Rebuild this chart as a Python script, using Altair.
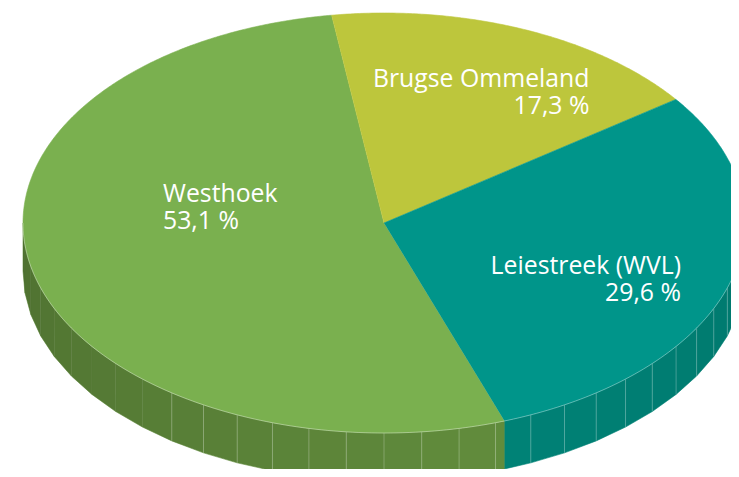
import altair as alt
import numpy as np
import pandas as pd

# ---- data ----
regions = ["Westhoek", "Brugse Ommeland", "Leiestreek (WVL)"]
shares = [53.1, 17.3, 29.6]
share_labels = ["53,1 %", "17,3 %", "29,6 %"]
top_colors = ["#7AB04F", "#BDC63C", "#00958A"]
side_colors = ["#628D3D", "#9BA32F", "#008276"]

# ---- layout (plot pixels, y downwards) ----
W, H = 723, 461
CX, CY = 376.0, 215.0      # centre of the top ellipse
VX, VY = 376.0, 215.0      # apex of the slices
RX, RY = 361.0, 210.0
DEPTH = 48.0
START = 70.5               # first slice starts here (deg, clockwise from 3 o'clock)


def ex(t):
    return CX + RX * np.cos(np.radians(t))


def ey(t):
    return CY + RY * np.sin(np.radians(t))


total = float(sum(shares))
bounds = []
acc = START
for v in shares:
    span = 360.0 * v / total
    bounds.append((acc, acc + span))
    acc += span

# top face polygons
top_rows = []
for name, (t0, t1) in zip(regions, bounds):
    top_rows.append(dict(name=name, k=0, x=VX, y=VY))
    n = int(np.ceil(t1 - t0)) * 2
    for i in range(n + 1):
        t = t0 + (t1 - t0) * i / n
        top_rows.append(dict(name=name, k=i + 1, x=ex(t), y=ey(t)))
top_df = pd.DataFrame(top_rows)

# side facets (front half: 0..180 deg)
cuts = set(float(a) for a in range(0, 181, 6))
for t0, t1 in bounds:
    for b in (t0 % 360, t1 % 360):
        if 0 < b < 180:
            cuts.add(b)
cuts = sorted(cuts)


def owner(t):
    for name, (t0, t1) in zip(regions, bounds):
        if (t - t0) % 360 < (t1 - t0):
            return name
    return regions[-1]


side_rows = []
for j in range(len(cuts) - 1):
    a, b = cuts[j], cuts[j + 1]
    m = (a + b) / 2
    nm = owner(m)
    pts = [(ex(a), ey(a)), (ex(b), ey(b)), (ex(b), ey(b) + DEPTH), (ex(a), ey(a) + DEPTH)]
    for k, (px, py) in enumerate(pts):
        side_rows.append(dict(fid=j, name=nm, mid=m, k=k, x=px, y=py))
side_df = pd.DataFrame(side_rows)

edge_angles = list(range(18, 127, 6))
edge_df = pd.DataFrame(dict(
    x=[ex(t) for t in edge_angles],
    y=[ey(t) for t in edge_angles],
    y2=[ey(t) + DEPTH for t in edge_angles],
))
rim_df = pd.DataFrame(dict(k=list(range(181)),
                           x=[ex(t) for t in range(181)],
                           y=[ey(t) for t in range(181)]))

# labels: (x, first baseline, align)
label_anchor = {
    "Westhoek": (155, 194, "left"),
    "Brugse Ommeland": (581.5, 79.3, "right"),
    "Leiestreek (WVL)": (673, 266.3, "right"),
}
LINE = 26.5
lab_rows = []
for name, lab in zip(regions, share_labels):
    lx, ly, al = label_anchor[name]
    lab_rows.append(dict(text=name, x=lx, y=ly, align=al))
    lab_rows.append(dict(text=lab, x=lx, y=ly + LINE, align=al))
lab_df = pd.DataFrame(lab_rows)

xs = alt.Scale(domain=[0, W], nice=False, zero=False)
ys = alt.Scale(domain=[0, H], nice=False, zero=False, reverse=True)
X = alt.X("x:Q", scale=xs, axis=None)
Y = alt.Y("y:Q", scale=ys, axis=None)

side_scale = alt.Scale(domain=regions, range=side_colors)
top_scale = alt.Scale(domain=regions, range=top_colors)

side = alt.Chart(side_df).mark_line(strokeWidth=0.6, clip=True).encode(
    x=X, y=Y,
    fill=alt.Fill("name:N", scale=side_scale, legend=None),
    color=alt.Color("name:N", scale=side_scale, legend=None),
    detail="fid:N",
    order=alt.Order("k:Q"),
)
shade = alt.Chart(side_df).mark_line(strokeWidth=0, fill="black", clip=True).encode(
    x=X, y=Y,
    detail="fid:N",
    order=alt.Order("k:Q"),
    opacity=alt.Opacity("mid:Q", scale=alt.Scale(domain=[0, 70, 180], range=[0.07, 0.0, 0.2]), legend=None),
)
edges = alt.Chart(edge_df).mark_rule(color="white", opacity=0.3, strokeWidth=0.8, clip=True).encode(
    x=X, y=Y, y2="y2:Q"
)
top = alt.Chart(top_df).mark_line(strokeWidth=0.6, clip=True).encode(
    x=X, y=Y,
    fill=alt.Fill("name:N", scale=top_scale, legend=None),
    color=alt.Color("name:N", scale=top_scale, legend=None),
    order=alt.Order("k:Q"),
)
rim = alt.Chart(rim_df).mark_line(color="white", opacity=0.45, strokeWidth=0.8, clip=True).encode(
    x=X, y=Y, order=alt.Order("k:Q")
)
font = dict(font="Open Sans", fontSize=24.8, color="white", baseline="alphabetic")
lab_left = alt.Chart(lab_df).transform_filter("datum.align == 'left'").mark_text(align="left", **font).encode(
    x=X, y=Y, text="text:N")
lab_right = alt.Chart(lab_df).transform_filter("datum.align == 'right'").mark_text(align="right", **font).encode(
    x=X, y=Y, text="text:N")

chart = alt.layer(side, shade, edges, top, rim, lab_left, lab_right).resolve_scale(
    fill="independent", color="independent"
).properties(width=W, height=H, padding=0).configure_view(stroke=None)

chart.save("out.html", embed_options={"renderer": "svg", "actions": False})
